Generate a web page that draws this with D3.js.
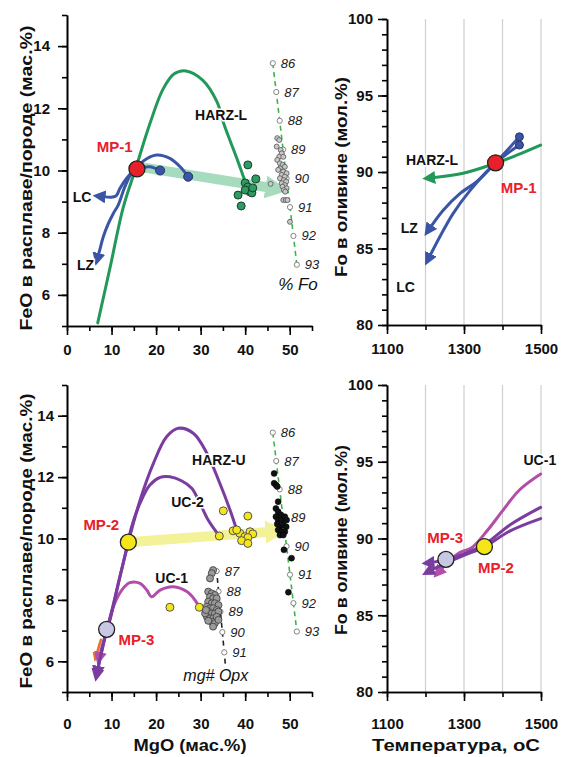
<!DOCTYPE html>
<html>
<head>
<meta charset="utf-8">
<script src="https://cdn.jsdelivr.net/npm/d3@7"></script>
<style>
body { margin: 0; background: #fff; }
svg text { font-family: "Liberation Sans", Arial, sans-serif; }
</style>
</head>
<body>
<div id="chart"></div>
<script>
// ---- оси ----
const mgoMajor = [0, 10, 20, 30, 40, 50];
const mgoMinor = [0, 5, 10, 15, 20, 25, 30, 35, 40, 45, 50, 55];
const feoMajor = [6, 8, 10, 12, 14];
const feoMinor = [5, 6, 7, 8, 9, 10, 11, 12, 13, 14, 15];
const tMajor = [1100, 1300, 1500];
const tMinor = [1100, 1200, 1300, 1400, 1500];
const tGrid = [1200, 1300, 1400, 1500];
const foMajor = [80, 85, 90, 95, 100];
const foMinor = [80, 81, 82, 83, 84, 85, 86, 87, 88, 89, 90, 91, 92, 93, 94, 95, 96, 97, 98, 99, 100];

// шкала % Fo (MgO, FeO концов)
const foScaleEnds = [86, 93];
const foScaleMgO = [46.2, 51.6];
const foScaleFeO = [13.45, 6.97];
const foScaleLabels = [86, 87, 88, 89, 90, 91, 92, 93];
// шкала mg# Opx
const opxScaleEnds = [87, 91];
const opxScaleMgO = [33.6, 35.3];
const opxScaleFeO = [8.94, 6.29];
const opxScaleLabels = [87, 88, 89, 90, 91];
const opxLineRange = [86.9, 91.7];

// ---- верх слева: MgO - FeO ----
const harzL = [[6.9,5.1],[9.7,6.9],[12.6,8.8],[15.5,10.1],[18.6,11.5],[21.5,12.6],[24,13.1],[26.7,13.2],[30.5,12.9],[33.7,12.2],[35.2,11.5],[38.1,10.4],[40.6,9.4]];
const lcTop = [[15.7,10.05],[14.9,9.99],[13.4,9.75],[11.9,9.43],[11.0,9.18],[9.65,9.14],[8.15,9.16],[6.9,9.18]];
const lzTop = [[15.7,10.05],[14.5,9.91],[13.0,9.48],[11.5,8.89],[10.4,8.62],[9.3,8.3],[8.15,7.87],[7.25,7.39],[6.7,7.1]];
const humpTop = [[15.7,10.05],[17.1,10.3],[20.1,10.5],[23.1,10.39],[25.4,10.12],[27.2,9.8]];
const shortTop = [[15.7,10.05],[18.5,10.12],[20.9,10.0]];
const blueDotsTop = [[20.9,10.0],[27.2,9.8]];
const mp1 = [15.7, 10.05];
const greenArrow = [[17, 10.1], [47.6, 9.4]];
const harzDots = [[40.6,10.18],[42.4,9.73],[40.0,9.6],[40.6,9.47],[41.1,9.31],[40.0,9.37],[38.4,9.21],[41.5,9.28],[39.1,8.86],[41.7,9.44]];
const olDots = [[47.2,11.04],[47.65,10.98],[47.07,10.77],[47.97,10.66],[48.2,10.55],[47.65,10.44],[48.55,10.44],[47.2,10.34],[47.8,10.23],[48.4,10.18],[48.9,10.12],[47.8,10.07],[47.4,10.02],[48.55,9.96],[49.3,9.91],[48.2,9.86],[48.9,9.8],[47.8,9.75],[48.7,9.69],[49.2,9.64],[48.2,9.59],[48.9,9.53],[48.4,9.48],[49.3,9.43],[48.7,9.37],[49.0,9.32],[45.7,9.57],[48.55,9.05],[49.1,9.05],[49.5,9.05],[50.05,8.35]];

// ---- верх справа: T - Fo ----
const harzLT = [[1499,91.76],[1437,91.1],[1385,90.6],[1298,89.92],[1205,89.59]];
const lzT = [[1444,92.3],[1382,90.6],[1333,89.37],[1290,88.6],[1246,87.5],[1205,86.1]];
const lcT = [[1444,91.76],[1382,90.6],[1316,88.8],[1272,87.3],[1238,85.8],[1205,84.2]];
const blueDotsT = [[1444,92.3],[1444,91.76]];
const mp1T = [1382, 90.6];

// ---- низ слева ----
const harzU = [[38.1,10.28],[36.6,10.93],[34.3,11.8],[31.4,12.78],[28.35,13.43],[25.0,13.59],[22.4,13.32],[19.4,12.45],[16.4,11.25],[13.77,9.88],[11.9,8.76],[9.65,7.35],[8.9,7.0],[7.6,6.2],[6.7,5.6]];
const uc2 = [[34.2,10.08],[31.7,10.6],[29.85,11.15],[28.0,11.64],[25.7,11.88],[23.1,12.01],[20.9,11.99],[18.6,11.74],[16.4,11.15],[14.5,10.38],[13.3,9.6],[11.6,8.6],[9.5,7.3],[8.4,6.7],[7.3,6.0],[6.6,5.5]];
const uc1 = [[29.7,7.76],[28.7,8.0],[26.9,8.27],[23.9,8.43],[20.9,8.32],[19.0,8.1],[17.9,8.32],[16.4,8.54],[14.1,8.56],[12.3,8.32],[10.4,7.78],[9.0,7.05],[7.9,6.5],[7.1,6.05]];
const orangeBit = [[7.6,6.7],[6.9,6.35],[6.4,6.1]];
const yellowArrow = [[13.77, 9.88], [47.6, 10.24]];
const yellowDots = [[35.1,10.9],[40.6,10.73],[34.2,10.08],[37.3,10.25],[38.8,10.17],[39.95,10.06],[41.1,10.22],[41.7,10.15],[40.6,10.03],[39.2,9.93],[40.6,9.84],[38.1,10.28],[23.1,7.76],[29.7,7.76]];
const opxDots = [[32.8,8.97],[32.5,8.87],[32.1,8.7],[31.7,8.27],[32.5,8.21],[33.2,8.16],[32.1,8.1],[32.8,8.05],[33.6,8.05],[31.7,7.94],[32.5,7.89],[33.2,7.89],[34.0,7.83],[31.4,7.78],[32.1,7.73],[32.8,7.73],[33.6,7.67],[31.7,7.62],[32.5,7.56],[33.2,7.56],[34.0,7.62],[31.4,7.45],[32.1,7.4],[32.8,7.4],[33.6,7.45],[32.5,7.29],[33.2,7.24],[32.8,7.13],[34.0,7.35],[31.7,7.32],[31.0,7.56],[31.2,7.67]];
const blackDots = [[46.5,12.12],[46.5,11.8],[46.9,11.74],[47.2,11.69],[47.4,11.2],[46.9,10.98],[47.4,10.87],[48.0,10.77],[46.9,10.71],[47.4,10.6],[48.2,10.6],[48.9,10.71],[49.3,10.6],[47.2,10.47],[47.8,10.38],[48.55,10.44],[49.2,10.38],[47.4,10.28],[48.2,10.22],[48.9,10.22],[47.8,10.11],[48.55,10.11],[48.7,9.63],[50.4,9.36],[49.7,8.25]];
const mp2 = [13.77, 9.88];
const mp3 = [8.9, 7.04];

// ---- низ справа ----
const uc1T = [[1499,94.2],[1444,93.16],[1400,91.8],[1360,90.5],[1320,89.4],[1290,89.1],[1260,88.5],[1230,87.7]];
const purpleUpT = [[1499,92.03],[1420,90.9],[1353,89.6],[1300,89.0],[1253,88.64],[1220,88.45],[1203,88.4]];
const purpleLoT = [[1499,91.3],[1420,90.5],[1353,89.45],[1300,88.9],[1253,88.4],[1220,88.0],[1203,87.78]];
const mp2T = [1353, 89.47];
const mp3T = [1253, 88.64];

// ---- цвета ----
const blue = "#3a55a6", green = "#22995a", purple = "#7b3c9f", magenta = "#b24ea9",
      red = "#e8202a", yellow = "#f5e619", lavender = "#c9c8e4";

const svg = d3.select("#chart").append("svg").attr("width", 562).attr("height", 757);
const defs = svg.append("defs");

function marker(id, color, size, units) {
    defs.append("marker")
        .attr("id", id)
        .attr("viewBox", "0 -5 10 10")
        .attr("refX", 6).attr("refY", 0)
        .attr("markerUnits", units || "userSpaceOnUse")
        .attr("markerWidth", size).attr("markerHeight", size)
        .attr("orient", "auto")
        .append("path").attr("d", "M0,-5L10,0L0,5Z").attr("fill", color);
}
marker("a-blue", blue, 13);
marker("a-green", green, 13);
marker("a-purple", purple, 13);
marker("a-magenta", magenta, 13);
marker("a-orange", "#e8702a", 9);
marker("a-big-green", "#6cc494", 2.3, "strokeWidth");
marker("a-big-yellow", "#ecea55", 2.3, "strokeWidth");

// панели
const tl = { x: d3.scaleLinear().domain([0, 55]).range([67, 312]), y: d3.scaleLinear().domain([5, 15]).range([326, 15]) };
const tr = { x: d3.scaleLinear().domain([1100, 1500]).range([387, 541]), y: d3.scaleLinear().domain([80, 100]).range([325, 19]) };
const bl = { x: d3.scaleLinear().domain([0, 55]).range([67, 312]), y: d3.scaleLinear().domain([5, 15]).range([692, 385]) };
const br = { x: d3.scaleLinear().domain([1100, 1500]).range([387, 541]), y: d3.scaleLinear().domain([80, 100]).range([692, 385]) };

function styleAxis(g, size) {
    g.selectAll("path, line").attr("stroke", "#000").attr("stroke-width", 1.6);
    g.selectAll("text").attr("font-size", size).attr("font-weight", "bold")
        .attr("font-family", "Liberation Sans, Arial, sans-serif").attr("fill", "#111");
}

function axes(p, xMaj, xMin, yMaj, yMin, xPad, yPad) {
    const y0 = p.y.range()[0], x0 = p.x.range()[0];
    const fmt = d3.format("d");
    const gx = svg.append("g").attr("transform", `translate(0,${y0})`);
    gx.append("g").call(d3.axisBottom(p.x).tickValues(xMin).tickSize(5).tickSizeOuter(0).tickFormat(""));
    gx.append("g").call(d3.axisBottom(p.x).tickValues(xMaj).tickSize(9).tickSizeOuter(0).tickPadding(xPad).tickFormat(fmt));
    styleAxis(gx, 15);
    const gy = svg.append("g").attr("transform", `translate(${x0},0)`);
    gy.append("g").call(d3.axisLeft(p.y).tickValues(yMin).tickSize(5).tickSizeOuter(0).tickFormat(""));
    gy.append("g").call(d3.axisLeft(p.y).tickValues(yMaj).tickSize(9).tickSizeOuter(0).tickPadding(yPad).tickFormat(fmt));
    styleAxis(gy, 15);
}

function grid(p) {
    svg.append("g").selectAll("line").data(tGrid).join("line")
        .attr("x1", d => p.x(d)).attr("x2", d => p.x(d))
        .attr("y1", p.y.range()[0]).attr("y2", p.y.range()[1])
        .attr("stroke", "#cfcfcf").attr("stroke-width", 1.2);
}

function curve(p, data, color, width, mk) {
    const line = d3.line().x(d => p.x(d[0])).y(d => p.y(d[1])).curve(d3.curveCatmullRom.alpha(0.5));
    const path = svg.append("path").datum(data)
        .attr("fill", "none").attr("stroke", color).attr("stroke-width", width)
        .attr("stroke-linecap", "round").attr("d", line);
    if (mk) path.attr("marker-end", `url(#${mk})`);
    return path;
}

function bigArrow(p, data, color, mk) {
    const g = svg.append("g").attr("opacity", 0.6);
    g.append("path").datum(data)
        .attr("fill", "none").attr("stroke", color).attr("stroke-width", 10)
        .attr("d", d3.line().x(d => p.x(d[0])).y(d => p.y(d[1])))
        .attr("marker-end", `url(#${mk})`);
}

function dots(p, data, r, fill, stroke, sw) {
    svg.append("g").selectAll("circle").data(data).join("circle")
        .attr("cx", d => p.x(d[0])).attr("cy", d => p.y(d[1])).attr("r", r)
        .attr("fill", fill).attr("stroke", stroke).attr("stroke-width", sw || 1);
}

function label(p, pos, text, opt) {
    opt = opt || {};
    svg.append("text").attr("x", p.x(pos[0])).attr("y", p.y(pos[1])).attr("dy", "0.35em")
        .attr("text-anchor", opt.anchor || "middle")
        .attr("font-size", opt.size || 14)
        .attr("font-weight", opt.italic ? "normal" : "bold")
        .attr("font-style", opt.italic ? "italic" : "normal")
        .attr("fill", opt.color || "#111")
        .attr("stroke", "#fff").attr("stroke-width", opt.halo === false ? 0 : 3)
        .attr("paint-order", "stroke")
        .text(text);
}

function scaleLine(p, ends, mgo, feo, labels, lineRange, color, labColor) {
    const sx = d3.scaleLinear().domain(ends).range(mgo);
    const sy = d3.scaleLinear().domain(ends).range(feo);
    svg.append("line")
        .attr("x1", p.x(sx(lineRange[0]))).attr("y1", p.y(sy(lineRange[0])))
        .attr("x2", p.x(sx(lineRange[1]))).attr("y2", p.y(sy(lineRange[1])))
        .attr("stroke", color).attr("stroke-width", 1.6).attr("stroke-dasharray", "5,4");
    const g = svg.append("g");
    g.selectAll("circle").data(labels).join("circle")
        .attr("cx", d => p.x(sx(d))).attr("cy", d => p.y(sy(d))).attr("r", 2.6)
        .attr("fill", "#fff").attr("stroke", "#777").attr("stroke-width", 0.9);
    g.selectAll("text").data(labels).join("text")
        .attr("x", d => p.x(sx(d)) + 8).attr("y", d => p.y(sy(d))).attr("dy", "0.35em")
        .attr("font-size", 13).attr("font-style", "italic").attr("fill", labColor || "#222")
        .text(d => d);
}

function axisTitle(x, y, text, rot, len) {
    svg.append("text")
        .attr("transform", `translate(${x},${y})` + (rot ? " rotate(-90)" : ""))
        .attr("text-anchor", "middle").attr("font-size", 17).attr("font-weight", "bold").attr("fill", "#111")
        .attr("textLength", len).attr("lengthAdjust", "spacingAndGlyphs")
        .text(text);
}

// ===== верх слева =====
bigArrow(tl, greenArrow, "#6cc494", "a-big-green");
curve(tl, harzL, green, 3);
dots(tl, harzDots, 4, "#2e9b62", "#17402a", 1);
scaleLine(tl, foScaleEnds, foScaleMgO, foScaleFeO, foScaleLabels, foScaleEnds, "#3cb44a");
dots(tl, olDots, 2.5, "#c8c8c8", "#555", 0.8);
curve(tl, lcTop, blue, 3, "a-blue");
curve(tl, lzTop, blue, 3, "a-blue");
curve(tl, humpTop, blue, 3);
curve(tl, shortTop, blue, 3);
dots(tl, blueDotsTop, 4.5, blue, "#223366", 1);
dots(tl, [mp1], 8, red, "#222", 1.3);
label(tl, [34.6, 11.78], "HARZ-L");
label(tl, [10.7, 10.76], "MP-1", { color: red, size: 15 });
label(tl, [3.4, 9.15], "LC", { size: 14 });
label(tl, [4.15, 6.96], "LZ", { size: 14 });
label(tl, [47.4, 6.35], "% Fo", { anchor: "start", italic: true, size: 17, halo: false });
axes(tl, mgoMajor, mgoMinor, feoMajor, feoMinor, 9, 8);

// ===== верх справа =====
grid(tr);
curve(tr, harzLT, green, 3, "a-green");
curve(tr, lzT, blue, 3, "a-blue");
curve(tr, lcT, blue, 3, "a-blue");
dots(tr, blueDotsT, 4, blue, "#223366", 1);
dots(tr, [mp1T], 8, red, "#222", 1.3);
label(tr, [1217, 90.8], "HARZ-L");
label(tr, [1442, 88.95], "MP-1", { color: red, size: 15 });
label(tr, [1158, 86.34], "LZ");
label(tr, [1148, 82.5], "LC");
axes(tr, tMajor, tMinor, foMajor, foMinor, 9, 5);

// ===== низ слева =====
bigArrow(bl, yellowArrow, "#ecea55", "a-big-yellow");
curve(bl, orangeBit, "#e8702a", 2.5, "a-orange");
curve(bl, uc1, magenta, 3, "a-magenta");
curve(bl, harzU, purple, 3, "a-purple");
curve(bl, uc2, purple, 3, "a-purple");
dots(bl, yellowDots, 4, yellow, "#555", 1);
scaleLine(bl, opxScaleEnds, opxScaleMgO, opxScaleFeO, opxScaleLabels, opxLineRange, "#222");
dots(bl, opxDots, 3.5, "#9a9a9a", "#444", 0.9);
scaleLine(bl, foScaleEnds, foScaleMgO, foScaleFeO, foScaleLabels, foScaleEnds, "#3cb44a");
dots(bl, blackDots, 3, "#111", "#000", 0.5);
dots(bl, [mp2], 8, yellow, "#222", 1.3);
dots(bl, [mp3], 8, lavender, "#222", 1.3);
label(bl, [34.1, 12.56], "HARZ-U");
label(bl, [27.05, 11.19], "UC-2");
label(bl, [23.5, 8.71], "UC-1");
label(bl, [7.7, 10.44], "MP-2", { color: red, size: 15 });
label(bl, [15.6, 6.69], "MP-3", { color: red, size: 15 });
label(bl, [33.4, 5.55], "mg# Opx", { italic: true, size: 16, halo: false });
axes(bl, mgoMajor, mgoMinor, feoMajor, feoMinor, 17, 4);

// ===== низ справа =====
grid(br);
curve(br, uc1T, magenta, 3, "a-magenta");
curve(br, purpleUpT, purple, 3, "a-purple");
curve(br, purpleLoT, purple, 3, "a-purple");
dots(br, [mp3T], 8, lavender, "#222", 1.3);
dots(br, [mp2T], 8, yellow, "#222", 1.3);
label(br, [1497, 95.1], "UC-1");
label(br, [1251, 90.03], "MP-3", { color: red, size: 15 });
label(br, [1383, 88.08], "MP-2", { color: red, size: 15 });
axes(br, tMajor, tMinor, foMajor, foMinor, 17, 5);

// подписи осей
axisTitle(32, 178, "FeO в расплаве/породе (мас.%)", true, 305);
axisTitle(32, 541, "FeO в расплаве/породе (мас.%)", true, 295);
axisTitle(347, 177, "Fo в оливине (мол.%)", true, 200);
axisTitle(347, 540, "Fo в оливине (мол.%)", true, 190);
axisTitle(190, 751, "MgO (мас.%)", false, 113);
axisTitle(456, 751, "Температура, oC", false, 168);
</script>
</body>
</html>
